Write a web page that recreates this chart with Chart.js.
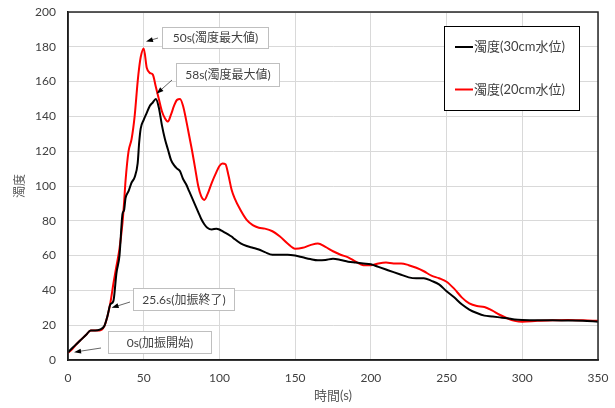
<!DOCTYPE html>
<html>
<head>
<meta charset="utf-8">
<script src="https://cdn.jsdelivr.net/npm/chart.js@4/dist/chart.umd.min.js"></script>
<style>
  body { margin: 0; background: #fff; }
  canvas { display: block; }
</style>
</head>
<body>
<canvas id="myChart" width="615" height="408"></canvas>
<script>
// time (s) and turbidity
const times = [0, 3, 6, 9, 12, 15, 18, 21, 24, 26, 28, 30, 32, 34, 36, 37, 38, 40, 42, 44, 46, 47, 48, 50,
  52, 54, 56, 58, 60, 62, 64, 66, 68, 70, 72, 74, 76, 78, 80, 82, 84, 86, 88, 90, 92, 95, 98, 100,
  102, 104, 106, 108, 110, 114, 118, 122, 126, 130, 135, 140, 145, 150, 155, 160, 165, 170, 175,
  180, 185, 190, 195, 200, 205, 210, 215, 220, 225, 230, 235, 240, 245, 250, 255, 260, 265, 270,
  275, 280, 285, 290, 295, 300, 310, 320, 330, 340, 350];

const turb30 = [4.5, 7, 9.5, 12, 14.5, 17, 17, 17.5, 19.5, 25, 32, 34, 50, 60, 84, 86, 93, 97, 102, 105, 113, 125, 133, 138,
  142, 146, 148, 150, 145, 135, 127, 121, 115, 112, 110, 108.5, 104, 101, 97, 93, 89, 85, 81, 78, 76, 75, 75.5, 75,
  74, 73, 72, 71, 69.5, 67, 65.5, 64.5, 63.5, 62, 60.5, 60.5, 60.5, 60, 59, 58, 57.3, 57.5, 58.2,
  57.5, 56.5, 56, 55.5, 55, 53.5, 52, 50.5, 49, 47.5, 47, 47, 45.5, 43.5, 39.5, 36, 32, 29, 27,
  25.5, 25, 24.5, 24, 23.3, 23, 22.8, 22.8, 22.7, 22.6, 22];

const turb20 = [4, 6.5, 9.5, 12, 14.5, 17, 17, 17, 19.5, 25, 33, 44, 54, 64, 79, 90, 103, 120, 127, 140, 160, 168, 174, 179,
  168, 165, 164, 157, 150, 143, 139, 137, 141, 146, 149.5, 150, 146, 138, 129, 120, 110, 100, 94, 92, 95, 102, 108, 111.5,
  113, 112.5, 106, 98, 93, 86, 80.5, 77.5, 76, 75.5, 74, 71, 67, 64, 64.5, 66, 67, 65, 62.5,
  60.5, 59, 56.5, 54.5, 54.5, 55.5, 56, 55.5, 55.5, 54.5, 53, 51, 48.5, 47, 45, 41, 36, 32.5, 31,
  30.5, 28.5, 26, 24, 22.5, 22, 22.5, 22.8, 23, 22.8, 22.5];

const seriesLabels = ['濁度(30cm水位)', '濁度(20cm水位)'];
const seriesColors = ['#000000', '#ff0000'];
const xTickValues = [0, 50, 100, 150, 200, 250, 300, 350];
const yTickValues = [0, 20, 40, 60, 80, 100, 120, 140, 160, 180, 200];

// callouts: text and the data point each arrow points at
const noteTexts = ['50s(濁度最大値)', '58s(濁度最大値)', '25.6s(加振終了)', '0s(加振開始)'];
const noteTimes = [51.5, 58.5, 28.8, 4];
const noteValues = [183, 153, 30, 4.5];
// box placement in px: [x, y, w, h, arrow start x, arrow start y]
const noteBoxes = [
  [162, 27, 106, 21, 158, 38],
  [176, 63, 103, 23, 172, 80],
  [133, 288, 101, 22, 130, 302],
  [108, 331, 103, 22, 101, 348]
];

const fontFamily = 'Lato, "Noto Sans CJK JP", sans-serif';

function toPoints(xs, ys) {
  let data = [];
  for (let i = 0; i < xs.length; i++) {
    data.push({ x: xs[i], y: ys[i] });
  }
  return data;
}

// keep tick padding from pushing the plot area in
function clearScalePadding(scale) {
  scale.paddingTop = 0;
  scale.paddingBottom = 0;
  scale.paddingLeft = 0;
  scale.paddingRight = 0;
}

const frame = {
  id: 'frame',
  afterDatasetsDraw(chart) {
    const a = chart.chartArea;
    const ctx = chart.ctx;
    ctx.save();
    ctx.strokeStyle = '#262626';
    ctx.lineWidth = 1.5;
    ctx.strokeRect(a.left, a.top, a.right - a.left, a.bottom - a.top);
    ctx.restore();
  }
};

const boxLegend = {
  id: 'boxLegend',
  afterDraw(chart) {
    const ctx = chart.ctx;
    ctx.save();
    ctx.fillStyle = '#fff';
    ctx.fillRect(444.5, 26.5, 135, 84);
    ctx.strokeStyle = '#000';
    ctx.lineWidth = 1;
    ctx.strokeRect(444.5, 26.5, 135, 84);
    const rows = [47, 89.5];
    chart.data.datasets.forEach(function (ds, i) {
      ctx.strokeStyle = ds.borderColor;
      ctx.lineWidth = 2;
      ctx.beginPath();
      ctx.moveTo(455, rows[i]);
      ctx.lineTo(473, rows[i]);
      ctx.stroke();
      ctx.fillStyle = '#404040';
      ctx.font = '13px ' + fontFamily;
      ctx.textAlign = 'left';
      ctx.textBaseline = 'middle';
      ctx.fillText(ds.label, 474, rows[i]);
    });
    ctx.restore();
  }
};

const callouts = {
  id: 'callouts',
  afterDraw(chart) {
    const ctx = chart.ctx;
    const xs = chart.scales.x;
    const ys = chart.scales.y;
    ctx.save();
    for (let i = 0; i < noteTexts.length; i++) {
      const b = noteBoxes[i];
      ctx.fillStyle = '#fff';
      ctx.fillRect(b[0] + 0.5, b[1] + 0.5, b[2], b[3]);
      ctx.strokeStyle = '#bfbfbf';
      ctx.lineWidth = 1;
      ctx.strokeRect(b[0] + 0.5, b[1] + 0.5, b[2], b[3]);
      ctx.fillStyle = '#404040';
      ctx.font = '12px ' + fontFamily;
      ctx.textAlign = 'center';
      ctx.textBaseline = 'middle';
      ctx.fillText(noteTexts[i], b[0] + b[2] / 2 + 0.5, b[1] + b[3] / 2 + 1);

      // arrow
      const tx = xs.getPixelForValue(noteTimes[i]);
      const ty = ys.getPixelForValue(noteValues[i]);
      const sx = b[4], sy = b[5];
      const ang = Math.atan2(ty - sy, tx - sx);
      ctx.strokeStyle = '#404040';
      ctx.lineWidth = 0.8;
      ctx.beginPath();
      ctx.moveTo(sx, sy);
      ctx.lineTo(tx - 5 * Math.cos(ang), ty - 5 * Math.sin(ang));
      ctx.stroke();
      ctx.fillStyle = '#000';
      ctx.beginPath();
      ctx.moveTo(tx, ty);
      ctx.lineTo(tx - 7 * Math.cos(ang) + 2.5 * Math.sin(ang), ty - 7 * Math.sin(ang) - 2.5 * Math.cos(ang));
      ctx.lineTo(tx - 7 * Math.cos(ang) - 2.5 * Math.sin(ang), ty - 7 * Math.sin(ang) + 2.5 * Math.cos(ang));
      ctx.closePath();
      ctx.fill();
    }
    ctx.restore();
  }
};

let ctx = document.getElementById('myChart').getContext('2d');
let myChart = new Chart(ctx, {
  type: 'line',
  data: {
    datasets: [{
      label: seriesLabels[0],
      data: toPoints(times, turb30),
      borderColor: seriesColors[0],
      borderWidth: 2,
      pointRadius: 0,
      cubicInterpolationMode: 'monotone',
      fill: false
    }, {
      label: seriesLabels[1],
      data: toPoints(times, turb20),
      borderColor: seriesColors[1],
      borderWidth: 2,
      pointRadius: 0,
      cubicInterpolationMode: 'monotone',
      fill: false
    }]
  },
  options: {
    responsive: false,
    animation: false,
    layout: { padding: { left: 0, right: 17, top: 12, bottom: 0 } },
    plugins: {
      legend: { display: false },
      tooltip: { enabled: false }
    },
    scales: {
      x: {
        type: 'linear',
        min: 0,
        max: 350,
        afterBuildTicks: function (scale) {
          scale.ticks = xTickValues.map(function (v) { return { value: v }; });
        },
        afterFit: function (scale) {
          scale.height = 48;
          clearScalePadding(scale);
        },
        grid: { color: '#d9d9d9', lineWidth: 1, drawTicks: false },
        border: { color: '#000', width: 1.5 },
        ticks: { color: '#404040', padding: 11, font: { family: fontFamily, size: 12 } },
        title: {
          display: true,
          text: '時間(s)',
          color: '#595959',
          font: { family: fontFamily, size: 13 },
          padding: { top: 0, bottom: 4 }
        }
      },
      y: {
        min: 0,
        max: 200,
        afterBuildTicks: function (scale) {
          scale.ticks = yTickValues.map(function (v) { return { value: v }; });
        },
        afterFit: function (scale) {
          scale.width = 68;
          clearScalePadding(scale);
        },
        grid: { color: '#d9d9d9', lineWidth: 1, drawTicks: false },
        border: { color: '#000', width: 1.5 },
        ticks: { color: '#404040', padding: 12, font: { family: fontFamily, size: 12 } },
        title: {
          display: true,
          text: '濁度',
          color: '#595959',
          font: { family: fontFamily, size: 12 },
          padding: { top: 13, bottom: 0 }
        }
      }
    }
  },
  plugins: [frame, boxLegend, callouts]
});
</script>
</body>
</html>
